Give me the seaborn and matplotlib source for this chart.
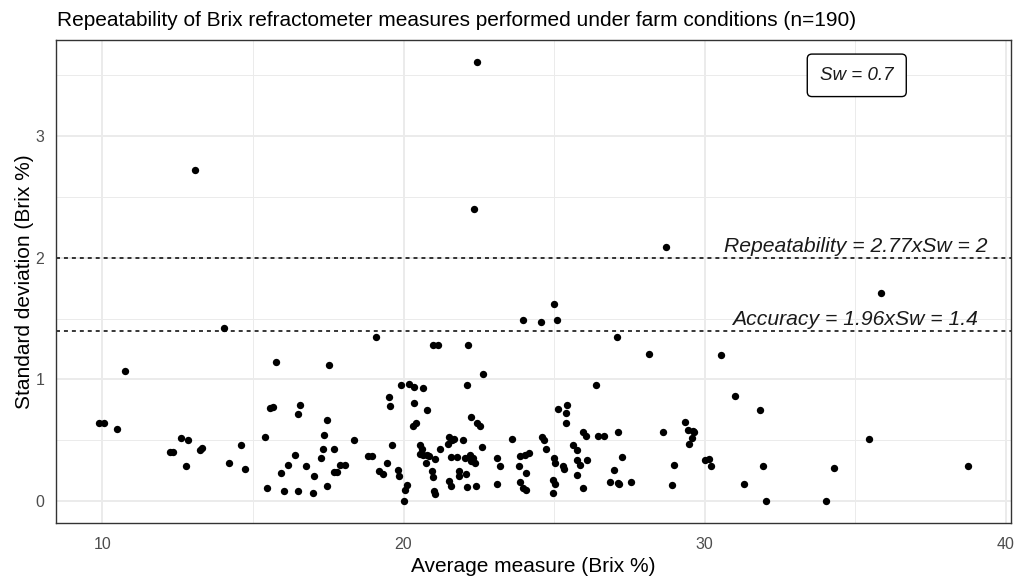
import numpy as np
import pandas as pd
import matplotlib
matplotlib.use("Agg")
import matplotlib.pyplot as plt
import seaborn as sns

# Average measure (Brix %)
avg_measure = [
    22.45, 13.08, 22.33, 28.71, 35.87, 25.0, 23.98, 24.55, 25.08, 14.03, 19.09, 27.1,
    20.99, 21.13, 22.15, 28.16, 30.54,
    10.74, 9.90, 10.04, 10.50, 12.25, 12.35, 12.62, 12.84, 12.78, 13.32, 13.25, 14.2,
    14.59, 14.73,
    15.78, 17.54, 15.58, 15.65, 16.56, 16.5, 17.45, 17.36, 15.4, 17.31, 17.69, 17.26,
    16.41, 16.17, 15.93, 16.75, 17.02, 15.45, 16.03, 16.5, 16.98, 17.45, 17.68, 17.79,
    17.88, 18.04, 18.35, 18.83, 18.96, 19.5, 19.55, 19.6, 19.45, 19.2, 19.32, 19.83,
    19.86, 20.1, 20.04, 20.01, 19.93, 20.18, 20.35, 20.35, 20.33, 20.42,
    20.64, 20.78, 22.64, 22.12, 22.25, 22.45, 22.53, 20.56, 20.6, 20.53,
    20.64, 20.77, 20.86, 21.03, 20.74, 20.93, 20.97, 21.0, 21.05, 21.22,
    21.46, 21.5, 21.61, 21.66, 21.96, 21.58, 21.78, 22.05, 22.2, 22.3,
    22.25, 22.36, 22.59, 21.83, 21.85, 22.08, 21.5, 21.59, 22.12, 22.41,
    23.11, 23.2, 23.11, 23.6, 23.86, 24.02, 24.15, 23.82, 24.06, 23.87,
    23.95, 24.06, 24.61, 24.65, 24.72, 25.01, 25.03, 25.3, 25.34, 24.97,
    25.03, 24.97, 25.14, 25.42, 25.4, 25.4, 25.64, 25.77, 25.77, 25.77,
    26.4, 31.0, 25.96, 26.07, 26.45, 26.65, 27.12, 26.08, 25.85, 25.97, 27.26, 26.98,
    26.87, 27.11, 27.15, 27.55, 28.63, 28.97, 28.93, 29.36, 29.44, 29.6, 29.65, 29.58,
    29.49, 30.02, 30.13, 30.22,
    31.83, 31.93, 31.3, 32.02, 34.3, 34.02, 35.45, 38.73,
]

# Standard deviation (Brix %)
std_dev = [
    3.61, 2.72, 2.40, 2.09, 1.71, 1.62, 1.49, 1.47, 1.49, 1.42, 1.35, 1.35,
    1.28, 1.28, 1.28, 1.21, 1.20,
    1.066, 0.642, 0.642, 0.595, 0.406, 0.406, 0.519, 0.50, 0.286, 0.437, 0.42, 0.31,
    0.464, 0.264,
    1.14, 1.115, 0.765, 0.77, 0.787, 0.713, 0.667, 0.546, 0.524, 0.428, 0.428, 0.357,
    0.382, 0.30, 0.228, 0.286, 0.204, 0.111, 0.086, 0.086, 0.064, 0.122, 0.24, 0.24,
    0.30, 0.30, 0.50, 0.371, 0.371, 0.855, 0.78, 0.464, 0.31, 0.25, 0.226, 0.253,
    0.204, 0.13, 0.09, 0.0, 0.95, 0.96, 0.934, 0.81, 0.62, 0.64,
    0.926, 0.749, 1.044, 0.95, 0.691, 0.642, 0.62, 0.464, 0.428, 0.387,
    0.38, 0.38, 0.37, 0.346, 0.31, 0.245, 0.199, 0.08, 0.055, 0.43,
    0.47, 0.527, 0.505, 0.513, 0.505, 0.36, 0.36, 0.355, 0.38, 0.355,
    0.327, 0.313, 0.445, 0.245, 0.204, 0.226, 0.163, 0.127, 0.113, 0.122,
    0.351, 0.286, 0.144, 0.513, 0.368, 0.376, 0.396, 0.286, 0.231, 0.154,
    0.108, 0.094, 0.527, 0.5, 0.43, 0.35, 0.313, 0.286, 0.264, 0.177,
    0.144, 0.067, 0.76, 0.787, 0.724, 0.642, 0.464, 0.423, 0.341, 0.218,
    0.95, 0.866, 0.565, 0.532, 0.532, 0.532, 0.57, 0.335, 0.297, 0.11, 0.36, 0.253,
    0.158, 0.15, 0.144, 0.158, 0.57, 0.30, 0.133, 0.653, 0.581, 0.573, 0.57, 0.519,
    0.472, 0.335, 0.346, 0.286,
    0.749, 0.286, 0.144, 0.0, 0.275, 0.0, 0.513, 0.286,
]

sw = 0.7
repeatability = 2.0
accuracy = 1.4
x_ticks = [10, 20, 30, 40]
y_ticks = [0, 1, 2, 3]

title = "Repeatability of Brix refractometer measures performed under farm conditions (n=190)"
x_label = "Average measure (Brix %)"
y_label = "Standard deviation (Brix %)"

df = pd.DataFrame({"avg": avg_measure, "sd": std_dev})

sns.set_style("white")
plt.rcParams["font.family"] = ["Liberation Sans", "DejaVu Sans"]

fig = plt.figure(figsize=(10.19, 5.79), dpi=100)
ax = fig.add_axes([56 / 1019, 1 - 523 / 579, (1011 - 56) / 1019, (523 - 40) / 579])

sns.scatterplot(data=df, x="avg", y="sd", ax=ax, color="black", s=28,
                linewidth=0, zorder=3, legend=False)

xr = max(avg_measure) - min(avg_measure)
yr = max(std_dev) - min(std_dev)
ax.set_xlim(min(avg_measure) - 0.05 * xr, max(avg_measure) + 0.05 * xr)
ax.set_ylim(min(std_dev) - 0.05 * yr, max(std_dev) + 0.05 * yr)

ax.set_xticks(x_ticks)
ax.set_yticks(y_ticks)
ax.set_xticks([15, 25, 35], minor=True)
ax.set_yticks([0.5, 1.5, 2.5, 3.5], minor=True)
ax.grid(which="major", color="#ebebeb", linewidth=1.4, zorder=0)
ax.grid(which="minor", color="#ebebeb", linewidth=0.7, zorder=0)
ax.set_axisbelow(True)
ax.tick_params(which="minor", length=0)
ax.tick_params(which="major", length=3.5, width=0.8, color="#333333",
               labelcolor="#4d4d4d", labelsize=11.5)
ax.tick_params(axis="x", which="major", pad=6.5)
ax.tick_params(axis="y", which="major", pad=5)
for sp in ax.spines.values():
    sp.set_color("#333333")
    sp.set_linewidth(1.0)
    sp.set_visible(True)

ax.axhline(repeatability, color="black", linestyle=(0, (2.6, 2.6)), linewidth=1.1, zorder=2)
ax.axhline(accuracy, color="black", linestyle=(0, (2.6, 2.6)), linewidth=1.1, zorder=2)

ax.text(35, repeatability + 0.045, "Repeatability = 2.77xSw = 2", ha="center", va="baseline",
        fontsize=15.2, style="italic", color="#1a1a1a", zorder=4)
ax.text(35, accuracy + 0.045, "Accuracy = 1.96xSw = 1.4", ha="center", va="baseline",
        fontsize=15.2, style="italic", color="#1a1a1a", zorder=4)
ax.text(35.05, 3.5, f"Sw = {sw}", ha="center", va="center", fontsize=13.5, style="italic",
        color="#1a1a1a", zorder=5,
        bbox=dict(boxstyle="round,pad=0.68,rounding_size=0.25", fc="white", ec="black", lw=1.0))

ax.set_xlabel(x_label, fontsize=15, color="black", labelpad=3.5)
ax.set_ylabel(y_label, fontsize=15, color="black", labelpad=1)
fig.text(57 / 1019, 1 - 26 / 579, title, fontsize=15, ha="left", va="baseline", color="black")

fig.savefig("out.png", dpi=100, facecolor="white")
